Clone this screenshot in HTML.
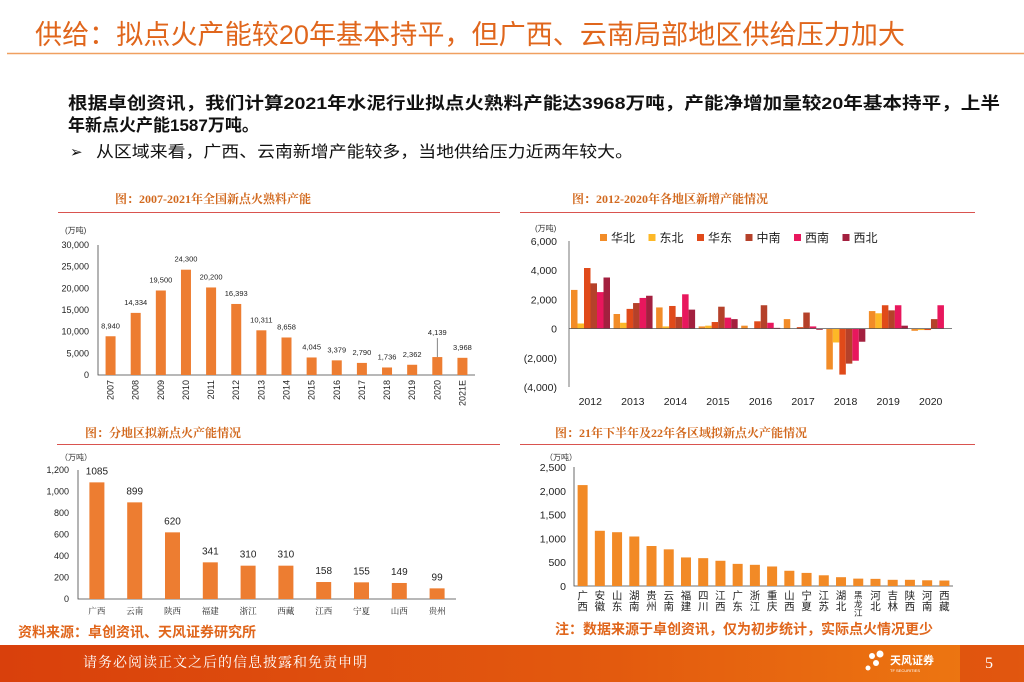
<!DOCTYPE html>
<html><head><meta charset="utf-8">
<style>
html,body{margin:0;padding:0;background:#fff;}
svg{display:block;font-family:"Liberation Sans","Noto Sans CJK SC",sans-serif;}
</style></head>
<body>
<svg id="s" width="1024" height="682" viewBox="0 0 1024 682" xmlns="http://www.w3.org/2000/svg">
<defs>
<linearGradient id="fg" x1="0" x2="1" y1="0" y2="0">
<stop offset="0" stop-color="#D9400C"/><stop offset="0.6" stop-color="#E35A0E"/><stop offset="1" stop-color="#EE7A12"/>
</linearGradient>
</defs>
<text x="35" y="44" font-size="27" fill="#E0661C" textLength="870" lengthAdjust="spacingAndGlyphs">供给：拟点火产能较20年基本持平，但广西、云南局部地区供给压力加大</text>
<line x1="7" y1="53.5" x2="1024" y2="53.5" stroke="#F0A060" stroke-width="1.5"/>
<text x="68" y="109" font-size="17" font-weight="bold" fill="#111" textLength="932" lengthAdjust="spacingAndGlyphs">根据卓创资讯，我们计算2021年水泥行业拟点火熟料产能达3968万吨，产能净增加量较20年基本持平，上半</text>
<text x="68" y="131" font-size="17" font-weight="bold" fill="#111">年新点火产能1587万吨。</text>
<text x="70" y="157" font-size="15" fill="#111">➢</text>
<text x="96" y="157" font-size="16" fill="#111" textLength="537" lengthAdjust="spacingAndGlyphs">从区域来看，广西、云南新增产能较多，当地供给压力近两年较大。</text>

<text x="115" y="203" font-size="12" font-weight="bold" fill="#D2691E" font-family="Liberation Serif,Noto Serif CJK SC,serif">图：2007-2021年全国新点火熟料产能</text>
<line x1="58" y1="212.5" x2="500" y2="212.5" stroke="#D9534F" stroke-width="1"/>
<text x="572" y="203" font-size="12" font-weight="bold" fill="#D2691E" font-family="Liberation Serif,Noto Serif CJK SC,serif">图：2012-2020年各地区新增产能情况</text>
<line x1="520" y1="212.5" x2="975" y2="212.5" stroke="#D9534F" stroke-width="1"/>
<text x="85" y="437" font-size="12" font-weight="bold" fill="#D2691E" font-family="Liberation Serif,Noto Serif CJK SC,serif">图：分地区拟新点火产能情况</text>
<line x1="57" y1="444.5" x2="500" y2="444.5" stroke="#D9534F" stroke-width="1"/>
<text x="555" y="437" font-size="12" font-weight="bold" fill="#D2691E" font-family="Liberation Serif,Noto Serif CJK SC,serif">图：21年下半年及22年各区域拟新点火产能情况</text>
<line x1="520" y1="444.5" x2="975" y2="444.5" stroke="#D9534F" stroke-width="1"/>

<text x="18" y="637" font-size="14" font-weight="bold" fill="#E0661C">资料来源：卓创资讯、天风证券研究所</text>
<text x="555" y="634" font-size="14" font-weight="bold" fill="#E0661C">注：数据来源于卓创资讯，仅为初步统计，实际点火情况更少</text>

<rect x="0" y="645" width="1024" height="37" fill="url(#fg)"/>
<rect x="960" y="645" width="64" height="37" fill="#D8400E" opacity="0.6"/>
<text x="83" y="667" font-size="14" fill="#fff" font-family="Liberation Serif,Noto Serif CJK SC,serif" letter-spacing="1">请务必阅读正文之后的信息披露和免责申明</text>
<g>
<circle cx="872" cy="656" r="3" fill="#fff"/><circle cx="880" cy="654" r="3.5" fill="#fff"/><circle cx="876" cy="663" r="3" fill="#fff"/><circle cx="868" cy="668" r="2.5" fill="#fff"/>
<text x="890" y="664" font-size="11" font-weight="bold" fill="#fff">天风证券</text>
<text x="890" y="672" font-size="4" fill="#fff">TF SECURITIES</text>
</g>
<text x="985" y="668" font-size="16" fill="#fff" font-family="Liberation Serif,serif">5</text>
<g id="charts"></g>
</svg>
<script>
// Chart 1 data
const c1Years=["2007","2008","2009","2010","2011","2012","2013","2014","2015","2016","2017","2018","2019","2020","2021E"];
const c1Values=[8940,14334,19500,24300,20200,16393,10311,8658,4045,3379,2790,1736,2362,4139,3968];
const c1Ticks=[0,5000,10000,15000,20000,25000,30000];
// Chart 2 data
const c2Years=["2012","2013","2014","2015","2016","2017","2018","2019","2020"];
const c2Regions=["华北","东北","华东","中南","西南","西北"];
const c2Huabei=[2650,1000,1450,150,200,650,-2800,1200,-150];
const c2Dongbei=[350,400,150,200,0,0,-950,1050,-100];
const c2Huadong=[4150,1350,1550,450,500,100,-3150,1600,-100];
const c2Zhongnan=[3100,1750,800,1500,1600,1100,-2400,1250,650];
const c2Xinan=[2500,2100,2350,750,400,150,-2200,1600,1600];
const c2Xibei=[3500,2250,1300,650,50,-80,-900,200,-20];
const c2Ticks=[-4000,-2000,0,2000,4000,6000];
// Chart 3 data
const c3Regions=["广西","云南","陕西","福建","浙江","西藏","江西","宁夏","山西","贵州"];
const c3Values=[1085,899,620,341,310,310,158,155,149,99];
const c3Ticks=[0,200,400,600,800,1000,1200];
// Chart 4 data
const c4Regions=["广西","安徽","山东","湖南","贵州","云南","福建","四川","江西","广东","浙江","重庆","山西","宁夏","江苏","湖北","黑龙江","河北","吉林","陕西","河南","西藏"];
const c4Values=[2120,1160,1130,1040,840,770,600,585,530,465,445,410,320,275,225,185,155,150,130,130,120,115];
const c4Ticks=[0,500,1000,1500,2000,2500];

const NS="http://www.w3.org/2000/svg";
const root=document.getElementById('charts');
function mk(tag,attrs,parent){const e=document.createElementNS(NS,tag);for(const k in attrs)e.setAttribute(k,attrs[k]);(parent||root).appendChild(e);return e;}
function fmt(v){const s=Math.abs(v).toLocaleString('en-US');return v<0?'('+s+')':s;}
const ORANGE="#ED7D31";

// ---------- Chart 1 ----------
(function(){
 const g=mk('g',{});
 
 
 const x0=98,x1=475,yb=375,yt=245,max=30000;
 const y=v=>yb-(v/max)*(yb-yt);
 const step=(x1-x0)/c1Years.length;
 const xc=i=>x0+step*(i+0.5);
 const u=mk('text',{x:65,y:233,'font-size':8,fill:'#333'},g);u.textContent='(万吨)';
 
 
 c1Ticks.forEach(t=>{const e=mk('text',{x:89,y:y(t)+3,'font-size':9,fill:'#222','text-anchor':'end'},g);e.textContent=fmt(t);
  
  });
 const ax=mk('path',{d:`M${x0},${yt} V${yb} H${x1}`,stroke:'#444',fill:'none','stroke-width':0.8},g);
 
 
 c1Values.forEach((v,i)=>{
  const b=mk('rect',{x:xc(i)-5,y:y(v),width:10,height:yb-y(v),fill:ORANGE},g);
  
  
  const ly=(i==13)?y(v)-22:y(v)-8;
  const l=mk('text',{x:xc(i),y:ly,'font-size':7.5,fill:'#222','text-anchor':'middle'},g);l.textContent=v.toLocaleString('en-US');
  
  
  if(i==13){mk('line',{x1:xc(i),y1:ly+3,x2:xc(i),y2:y(v),stroke:'#666','stroke-width':0.8},g);}
  const yl=mk('text',{x:0,y:0,'font-size':9,fill:'#222','text-anchor':'end',transform:`translate(${xc(i)+3},${yb+5}) rotate(-90)`},g);yl.textContent=c1Years[i];
  
  
 });
})();

// ---------- Chart 2 ----------
(function(){
 const g=mk('g',{});
 
 
 const series=[c2Huabei,c2Dongbei,c2Huadong,c2Zhongnan,c2Xinan,c2Xibei];
 const colors=["#F28C28","#FDB827","#E04A1A","#B5412A","#E8175D","#A3203F"];
 const x0=569,x1=952,yTop=241,yBot=387,vmin=-4000,vmax=6000;
 const y=v=>yBot-(v-vmin)/(vmax-vmin)*(yBot-yTop);
 const gw=(x1-x0)/c2Years.length;
 const u=mk('text',{x:535,y:231,'font-size':8,fill:'#333'},g);u.textContent='(万吨)';
 
 
 c2Ticks.forEach(t=>{const e=mk('text',{x:557,y:y(t)+4,'font-size':10.5,fill:'#222','text-anchor':'end'},g);e.textContent=fmt(t);
  
  });
 const ya=mk('line',{x1:x0,y1:yTop,x2:x0,y2:yBot,stroke:'#555','stroke-width':0.8},g);
 
 
 c2Years.forEach((yr,gi)=>{
  series.forEach((s,si)=>{const v=s[gi];const top=Math.min(y(v),y(0));const h=Math.abs(y(v)-y(0));
   const b=mk('rect',{x:x0+gi*gw+2+si*6.5,y:top,width:6.5,height:h,fill:colors[si]},g);
   
   });
  const l=mk('text',{x:x0+gi*gw+gw/2,y:405,'font-size':10.5,fill:'#222','text-anchor':'middle'},g);l.textContent=yr;
  
  
 });
 const xa=mk('line',{x1:x0,y1:y(0),x2:x1,y2:y(0),stroke:'#555','stroke-width':0.8},g);
 
 
 c2Regions.forEach((r,i)=>{
  const lx=600+i*48.5;
  const sw=mk('rect',{x:lx,y:234,width:7,height:7,fill:colors[i]},g);
  
  
  const t=mk('text',{x:lx+11,y:242,'font-size':12,fill:'#222'},g);t.textContent=r;
  
  
 });
})();

// ---------- Chart 3 ----------
(function(){
 const g=mk('g',{});
 
 
 const x0=78,x1=456,yb=599,yt=470,max=1200;
 const y=v=>yb-(v/max)*(yb-yt);
 const step=(x1-x0)/c3Regions.length;
 const xc=i=>x0+step*(i+0.5);
 const u=mk('text',{x:60,y:460,'font-size':8,fill:'#333'},g);u.textContent='（万吨）';
 
 
 c3Ticks.forEach(t=>{const e=mk('text',{x:69,y:y(t)+3,'font-size':9,fill:'#222','text-anchor':'end'},g);e.textContent=t.toLocaleString('en-US');
  
  });
 const ax=mk('path',{d:`M${x0},${yt} V${yb} H${x1}`,stroke:'#444',fill:'none','stroke-width':0.8},g);
 
 
 c3Values.forEach((v,i)=>{
  const b=mk('rect',{x:xc(i)-7.5,y:y(v),width:15,height:yb-y(v),fill:ORANGE},g);
  
  
  const l=mk('text',{x:xc(i),y:y(v)-8,'font-size':10,fill:'#222','text-anchor':'middle'},g);l.textContent=v;
  
  
  const xl=mk('text',{x:xc(i),y:614,'font-size':8.5,fill:'#222','text-anchor':'middle','font-family':'Noto Serif CJK SC,serif'},g);xl.textContent=c3Regions[i];
  
  
 });
})();

// ---------- Chart 4 ----------
(function(){
 const g=mk('g',{});
 
 
 const x0=574,x1=953,yb=586,yt=467,max=2500;
 const y=v=>yb-(v/max)*(yb-yt);
 const step=(x1-x0)/c4Regions.length;
 const xc=i=>x0+step*(i+0.5);
 const u=mk('text',{x:545,y:460,'font-size':8,fill:'#333'},g);u.textContent='（万吨）';
 
 
 c4Ticks.forEach(t=>{const e=mk('text',{x:566,y:y(t)+4,'font-size':10.5,fill:'#222','text-anchor':'end'},g);e.textContent=t.toLocaleString('en-US');
  
  });
 const ax=mk('path',{d:`M${x0},${yt} V${yb} H${x1}`,stroke:'#444',fill:'none','stroke-width':0.8},g);
 
 
 c4Values.forEach((v,i)=>{
  const b=mk('rect',{x:xc(i)-5,y:y(v),width:10,height:yb-y(v),fill:"#F28A26"},g);
  
  
  const chars=c4Regions[i].split('');
  const fs=chars.length>2?8.5:10.5;
  chars.forEach((c,k)=>{const t=mk('text',{x:xc(i),y:599+k*(fs+0.5)+(chars.length>2?-1:0),'font-size':fs,fill:'#222','text-anchor':'middle'},g);t.textContent=c;
   
   });
 });
})();
</script>
</body></html>
